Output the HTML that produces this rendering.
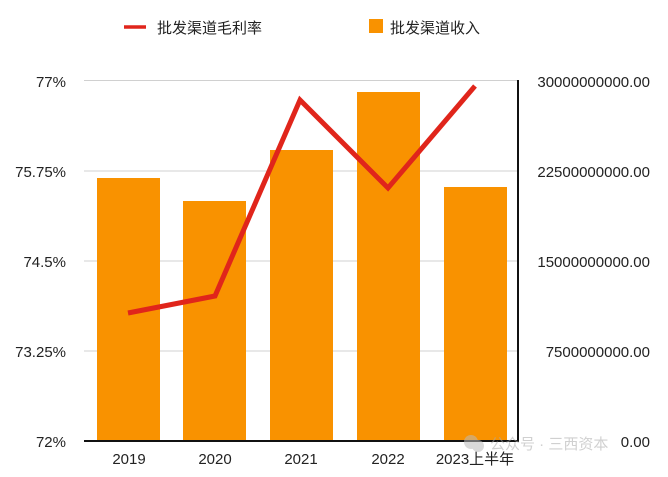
<!DOCTYPE html>
<html><head><meta charset="utf-8"><style>
html,body{margin:0;padding:0;background:#fff;}
svg text{font-family:"Liberation Sans","Noto Sans CJK SC",sans-serif;}
</style></head><body>
<svg width="668" height="472" viewBox="0 0 668 472" xmlns="http://www.w3.org/2000/svg">
<rect width="668" height="472" fill="#fff"/>
<!-- legend -->
<line x1="124" y1="27" x2="146" y2="27" stroke="#e0251b" stroke-width="3.5"/>
<text x="157" y="33" font-size="15" fill="#222">批发渠道毛利率</text>
<rect x="369" y="19" width="14" height="14" fill="#f99200"/>
<text x="390" y="33" font-size="15" fill="#222">批发渠道收入</text>
<!-- grid -->
<g stroke="#d0d0d0" stroke-width="1">
<line x1="84" y1="80.5" x2="518" y2="80.5"/>
<line x1="84" y1="171" x2="518" y2="171"/>
<line x1="84" y1="261" x2="518" y2="261"/>
<line x1="84" y1="351" x2="518" y2="351"/>
</g>
<!-- bars -->
<g fill="#f99200">
<rect x="97" y="178" width="63" height="263"/>
<rect x="183" y="201" width="63" height="240"/>
<rect x="270" y="150" width="63" height="291"/>
<rect x="357" y="92" width="63" height="349"/>
<rect x="444" y="187" width="63" height="254"/>
</g>
<!-- axes -->
<line x1="84" y1="441" x2="519" y2="441" stroke="#111" stroke-width="2"/>
<line x1="518" y1="80" x2="518" y2="442" stroke="#111" stroke-width="2"/>
<!-- line -->
<polyline points="128,313 215,296 300,100 388,188 475,86" fill="none" stroke="#e0251b" stroke-width="5" stroke-linejoin="miter"/>
<!-- left labels -->
<g font-size="15" fill="#222" text-anchor="end">
<text x="66" y="87">77%</text>
<text x="66" y="177">75.75%</text>
<text x="66" y="267">74.5%</text>
<text x="66" y="357">73.25%</text>
<text x="66" y="447">72%</text>
</g>
<!-- right labels -->
<g font-size="15" fill="#222" text-anchor="end">
<text x="650" y="87">30000000000.00</text>
<text x="650" y="177">22500000000.00</text>
<text x="650" y="267">15000000000.00</text>
<text x="650" y="357">7500000000.00</text>
<text x="650" y="447">0.00</text>
</g>
<!-- x labels -->
<g font-size="15" fill="#222" text-anchor="middle">
<text x="129" y="464">2019</text>
<text x="215" y="464">2020</text>
<text x="301" y="464">2021</text>
<text x="388" y="464">2022</text>
<text x="475" y="464">2023上半年</text>
</g>
<!-- watermark -->
<g opacity="0.55">
<circle cx="471" cy="442" r="7" fill="#bbb"/>
<circle cx="478" cy="446" r="6" fill="#bbb"/>
<text x="490" y="449" font-size="15" fill="#aaa">公众号 · 三西资本</text>
</g>
</svg>
</body></html>
